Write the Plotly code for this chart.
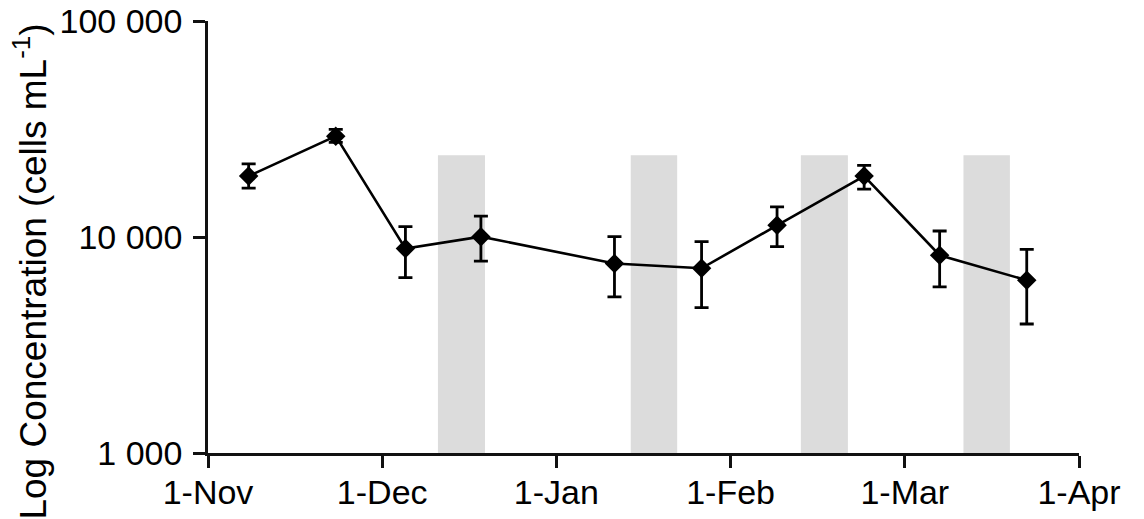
import plotly.graph_objects as go

# Sampling day (days since 1-Nov, 30-day month spacing on the axis)
sample_day = [7, 22, 34, 47, 70, 85, 98, 113, 126, 141]
# Mean concentration (cells per mL) and error bar half-lengths
conc = [19150, 29300, 8840, 10040, 7535, 7165, 11325, 19150, 8230, 6305]
err_plus = [2650, 2200, 2330, 2450, 2500, 2350, 2450, 2300, 2430, 2450]
err_minus = [2300, 1900, 2350, 2300, 2250, 2450, 2300, 2500, 2350, 2350]

# Shaded periods (start and end day) and their top
band_start = [39.6, 72.8, 102.1, 130.1]
band_end = [47.7, 80.8, 110.2, 138.1]
band_top = 23900
band_bottom = 1000

# Axis ticks
x_tickvals = [0, 30, 60, 90, 120, 150]
x_ticktext = ["1-Nov", "1-Dec", "1-Jan", "1-Feb", "1-Mar", "1-Apr"]
y_tickvals = [1000, 10000, 100000]
y_ticktext = ["1 000", "10 000", "100 000"]

FONT = "Liberation Sans, Arial, sans-serif"

fig = go.Figure()

# Grey bands built as closed rectangles
bx, by = [], []
for s, e in zip(band_start, band_end):
    bx += [s, e, e, s, s, None]
    by += [band_bottom, band_bottom, band_top, band_top, band_bottom, None]
fig.add_trace(go.Scatter(
    x=bx, y=by, mode="lines", fill="toself",
    fillcolor="#dcdcdc", line=dict(width=0, color="#dcdcdc"),
    hoverinfo="skip", showlegend=False,
))

fig.add_trace(go.Scatter(
    x=sample_day, y=conc, mode="lines+markers",
    line=dict(color="black", width=2.6),
    marker=dict(symbol="diamond", size=15, color="black"),
    error_y=dict(type="data", array=err_plus, arrayminus=err_minus,
                 color="black", thickness=2.8, width=7),
    showlegend=False,
))

fig.update_layout(
    width=1144, height=519,
    margin=dict(l=208, r=65, t=21, b=66),
    paper_bgcolor="white", plot_bgcolor="white",
    font=dict(family=FONT, size=34, color="black"),
    xaxis=dict(
        range=[0, 150], tickmode="array", tickvals=x_tickvals, ticktext=x_ticktext,
        showline=True, linecolor="#111", linewidth=2.5,
        ticks="outside", ticklen=12, tickwidth=2.5, tickcolor="#111",
        showgrid=False, zeroline=False, tickfont=dict(size=34),
        automargin=False, ticklabelstandoff=-5,
    ),
    yaxis=dict(
        type="log", range=[3, 5], tickmode="array", tickvals=y_tickvals, ticktext=y_ticktext,
        showline=True, linecolor="#111", linewidth=2.5,
        ticks="outside", ticklen=12, tickwidth=2.5, tickcolor="#111",
        showgrid=False, zeroline=False, tickfont=dict(size=34),
        automargin=False, ticklabelstandoff=4,
    ),
    annotations=[dict(
        text="Log Concentration (cells mL<sup>-1</sup>)",
        xref="paper", yref="paper", x=0, y=0.42,
        xanchor="center", yanchor="middle", xshift=-177,
        textangle=-90, showarrow=False, font=dict(size=37, family=FONT),
    )],
)

fig.write_html("out.html")
